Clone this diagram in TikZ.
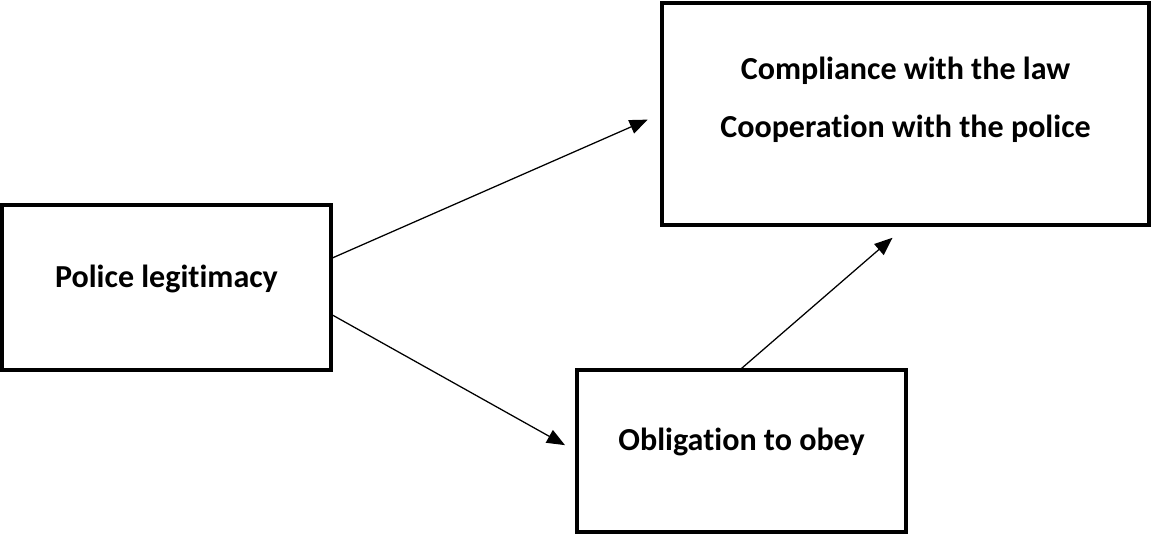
\documentclass[tikz,border=0pt]{standalone}
\usepackage{fontspec}
\setmainfont{Carlito}[Ligatures=NoCommon]
\usepackage{tikz}
\usetikzlibrary{arrows.meta,calc}

\begin{document}
\begin{tikzpicture}[box/.style={draw,line width=2.2pt,minimum width=8.225cm,inner sep=0pt},
 lbl/.style={anchor=base,inner sep=0pt,font=\fontsize{22.8}{27}\selectfont\bfseries},
 arr/.style={line width=0.9pt,-{Triangle[length=0.45cm,width=0.36cm]}}]
\useasboundingbox (0,0) rectangle (28.775,13.375);

\node[box,minimum height=4.125cm] (pol) at (4.1625,6.1875) {};
\node[box,minimum width=12.175cm,minimum height=5.55cm] (comp) at (22.6375,10.525) {};
\node[box,minimum height=4.05cm] (obl) at (18.5375,2.1) {};

\node[lbl] (poltxt) at (pol.center) {Police legitimacy};
\node[lbl] (comptxta) at (22.6375,11.375) {Compliance with the law};
\node[lbl] (comptxtb) at (22.6375,9.925) {Cooperation with the police};
\node[lbl] (obltxt) at (obl.center) {Obligation to obey};

 \draw [arr,shorten >=0.35cm] ([yshift=0.74cm]pol.east) -- (comp.west);
 \draw [arr,shorten >=0.3cm] ([yshift=-0.69cm]pol.east) -- (obl.west);
 \draw [arr,shorten >=0.43cm] (obl.north) -- (comp.south);

\end{tikzpicture}
\end{document}
